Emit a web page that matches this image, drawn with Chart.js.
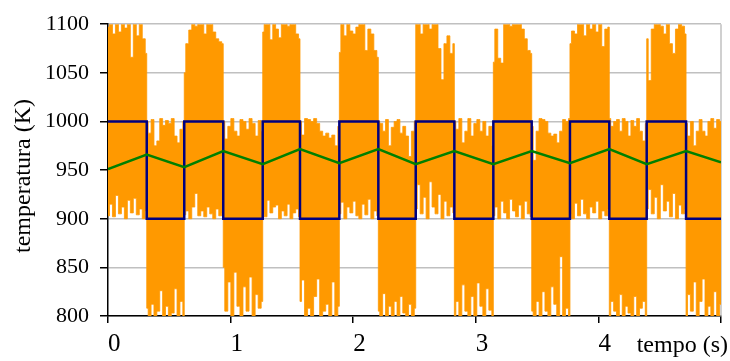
<!DOCTYPE html>
<html>
<head>
<meta charset="utf-8">
<script src="https://cdn.jsdelivr.net/npm/chart.js@4"></script>
<style>html,body{margin:0;padding:0;background:#fff}</style>
</head>
<body>
<canvas id="c" width="730" height="361"></canvas>
<script>
// axis ticks
const xTicks = [0, 1, 2, 3, 4, 5];
const yTicks = [800, 850, 900, 950, 1000, 1050, 1100];

// set point: switching instants (s) and the level held after each one (K)
const switchTimes = [0, 0.316, 0.622, 0.940, 1.262, 1.566, 1.887, 2.205, 2.510,
                     2.825, 3.143, 3.456, 3.768, 4.089, 4.394, 4.715, 5.0];
const setpointLevels = [1000, 900, 1000, 900, 1000, 900, 1000, 900,
                        1000, 900, 1000, 900, 1000, 900, 1000, 900];

// mean temperature (K)
const meanTimes  = [0, 0.316, 0.622, 0.940, 1.262, 1.566, 1.887, 2.205, 2.510,
                    2.825, 3.143, 3.456, 3.768, 4.089, 4.394, 4.715, 5.0];
const meanValues = [951, 966, 953, 969.5, 956, 971.5, 957, 971.5, 956,
                    969.5, 956, 969.5, 957, 971.5, 956, 969.5, 958];

// instantaneous temperature: upper and lower envelope of the fast
// oscillation, sampled evenly across each set-point interval (K)
const envTop = [
  [1097, 1100, 1090, 1100, 1092, 1100, 1096, 1100, 1066, 1100, 1088, 1100, 1085, 1070],
  [1000, 988, 1002, 975, 980, 1003, 996, 1001, 998, 1003, 985, 978, 992, 1000],
  [1050, 1080, 1094, 1100, 1098, 1100, 1100, 1090, 1100, 1100, 1092, 1085, 1082, 1080],
  [1000, 982, 995, 1003, 990, 985, 1002, 1000, 992, 1003, 998, 985, 1001, 990],
  [1092, 1100, 1100, 1084, 1100, 1095, 1086, 1100, 1100, 1098, 1100, 1100, 1090, 1085],
  [1000, 986, 1003, 1002, 1000, 1003, 998, 990, 985, 988, 983, 986, 975, 995],
  [1071, 1100, 1088, 1100, 1093, 1090, 1097, 1100, 1100, 1073, 1095, 1090, 1073, 1066],
  [1000, 998, 990, 1002, 975, 994, 1000, 1002, 988, 995, 985, 964, 990, 1000],
  [1100, 1100, 1090, 1100, 1100, 1095, 1100, 1100, 1075, 1043, 1080, 1088, 1070, 1080],
  [1000, 992, 1003, 978, 990, 1003, 985, 998, 1002, 990, 1000, 985, 995, 975],
  [1061, 1095, 1065, 1060, 1100, 1100, 1098, 1100, 1100, 1100, 1095, 1085, 1073, 1070],
  [995, 960, 990, 1003, 1002, 1000, 988, 985, 987, 978, 990, 1002, 1000, 1003],
  [1080, 1093, 1090, 1100, 1100, 1088, 1100, 1095, 1100, 1092, 1100, 1077, 1095, 1097],
  [1003, 995, 1000, 1002, 990, 1003, 1000, 985, 1001, 995, 1003, 990, 980, 998],
  [1085, 1042, 1095, 1100, 1100, 1098, 1090, 1100, 1080, 1070, 1095, 1100, 1098, 1090],
  [998, 985, 1000, 975, 990, 1002, 990, 985, 1000, 1003, 993, 1002, 1000]
];
const envBottom = [
  [903, 915, 902, 924, 905, 912, 900, 919, 906, 921, 904, 910, 900, 908],
  [808, 800, 812, 800, 805, 826, 800, 810, 800, 803, 828, 800, 815, 800],
  [904, 908, 900, 912, 926, 903, 908, 902, 912, 905, 900, 910, 903, 906],
  [850, 805, 835, 800, 845, 810, 800, 830, 805, 840, 800, 822, 808, 815],
  [905, 902, 919, 906, 912, 914, 900, 908, 903, 915, 900, 906, 910, 902],
  [815, 837, 800, 808, 800, 820, 838, 800, 805, 812, 800, 835, 800, 810],
  [905, 917, 900, 912, 906, 918, 903, 900, 915, 904, 920, 900, 908, 903],
  [805, 800, 823, 800, 810, 800, 815, 800, 820, 803, 800, 812, 800, 808],
  [910, 935, 905, 922, 900, 938, 912, 905, 925, 900, 918, 903, 912, 906],
  [800, 815, 800, 832, 805, 800, 820, 800, 834, 810, 800, 828, 806, 800],
  [903, 912, 900, 918, 906, 900, 920, 908, 902, 914, 900, 918, 905, 902],
  [805, 800, 815, 800, 825, 805, 800, 830, 812, 800, 861, 800, 808, 800],
  [904, 900, 916, 903, 920, 905, 900, 912, 906, 918, 900, 908, 903, 910],
  [800, 815, 805, 800, 822, 800, 810, 803, 800, 820, 800, 808, 815, 800],
  [910, 930, 905, 922, 900, 935, 908, 918, 902, 926, 900, 914, 905, 910],
  [800, 822, 805, 835, 800, 815, 838, 800, 810, 800, 825, 800, 812]
];

// set-point trace as horizontal runs joined by vertical switches
const setpointPoints = [];
setpointLevels.forEach((lvl, k) => {
  setpointPoints.push({x: switchTimes[k], y: lvl});
  setpointPoints.push({x: switchTimes[k + 1], y: lvl});
});

// envelope traces; each interval starts and ends on its switching instants
function envelopePoints(env) {
  const pts = [];
  env.forEach((vals, k) => {
    const a = switchTimes[k], b = switchTimes[k + 1];
    const step = (b - a) / (vals.length - 1);
    vals.forEach((v, i) => pts.push({x: a + i * step, y: v}));
  });
  return pts;
}
const topPoints = envelopePoints(envTop);
const bottomPoints = envelopePoints(envBottom);

const meanPoints = meanTimes.map((t, i) => ({x: t, y: meanValues[i]}));

const serif = 'Liberation Serif, Times New Roman, serif';
const orange = '#ff9900';

const framePlugin = {
  id: 'frame',
  beforeDatasetsDraw(chart) {
    const {ctx, chartArea: a} = chart;
    ctx.save();
    ctx.strokeStyle = '#c0c0c0';
    ctx.lineWidth = 1.5;
    ctx.beginPath();
    ctx.moveTo(a.right, a.top);
    ctx.lineTo(a.right, a.bottom);
    ctx.stroke();
    ctx.restore();
  },
  afterDraw(chart) {
    const {ctx} = chart;
    ctx.save();
    ctx.fillStyle = '#000';
    ctx.font = '24px ' + serif;
    ctx.textAlign = 'right';
    ctx.textBaseline = 'alphabetic';
    ctx.fillText('tempo (s)', 728, 352);
    ctx.translate(24, 176);
    ctx.rotate(-Math.PI / 2);
    ctx.textAlign = 'center';
    ctx.textBaseline = 'middle';
    ctx.fillText('temperatura (K)', 0, 0);
    ctx.restore();
  }
};

new Chart(document.getElementById('c'), {
  type: 'line',
  data: {
    datasets: [
      {
        data: topPoints,
        borderColor: orange,
        backgroundColor: orange,
        borderWidth: 0.8,
        pointRadius: 0,
        stepped: 'middle',
        fill: '+1',
        clip: 0,
        order: 4
      },
      {
        data: bottomPoints,
        borderColor: orange,
        borderWidth: 0.8,
        pointRadius: 0,
        stepped: 'middle',
        fill: false,
        clip: 0,
        order: 3
      },
      {
        data: setpointPoints,
        borderColor: '#000080',
        borderWidth: 2.5,
        pointRadius: 0,
        tension: 0,
        fill: false,
        order: 2
      },
      {
        data: meanPoints,
        borderColor: '#008000',
        borderWidth: 2.5,
        pointRadius: 0,
        tension: 0,
        fill: false,
        order: 1
      }
    ]
  },
  options: {
    responsive: false,
    animation: false,
    devicePixelRatio: 1,
    parsing: false,
    layout: {padding: {top: 24, right: 9, bottom: 0, left: 0}},
    plugins: {legend: {display: false}, tooltip: {enabled: false}, filler: {propagate: false}},
    scales: {
      x: {
        type: 'linear',
        min: 0, max: 5,
        afterFit(s) { s.height = 45; },
        afterBuildTicks(s) { s.ticks = xTicks.map(v => ({value: v})); },
        ticks: {
          align: 'start',
          maxRotation: 0,
          padding: 6,
          color: '#000',
          font: {family: serif, size: 25},
          callback: v => (v === 5 ? '' : String(v))
        },
        grid: {drawOnChartArea: false, tickColor: '#000', tickLength: 7, lineWidth: 1.5},
        border: {color: '#000', width: 1.5}
      },
      y: {
        type: 'linear',
        min: 800, max: 1100,
        afterFit(s) { s.width = 108; },
        afterBuildTicks(s) { s.ticks = yTicks.map(v => ({value: v})); },
        ticks: {
          padding: 11,
          color: '#000',
          font: {family: serif, size: 22},
          callback: v => String(v)
        },
        grid: {color: '#c0c0c0', lineWidth: 1.5, tickColor: '#000', tickLength: 8},
        border: {color: '#000', width: 1.5}
      }
    }
  },
  plugins: [framePlugin]
});
</script>
</body>
</html>
